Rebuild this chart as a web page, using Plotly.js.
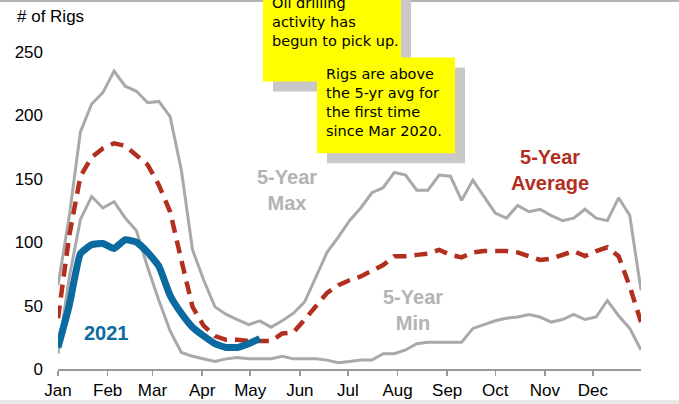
<!DOCTYPE html>
<html>
<head>
<meta charset="utf-8">
<script src="https://cdn.plot.ly/plotly-3.0.1.min.js"></script>
<style>
html,body{margin:0;padding:0;background:#fff;}
#chart{width:679px;height:404px;}
</style>
</head>
<body>
<div id="chart"></div>
<script>
// Weekly dates (x categories)
var weeks = [
  "2021-01-01","2021-01-08","2021-01-15","2021-01-22","2021-01-29",
  "2021-02-05","2021-02-12","2021-02-19","2021-02-26",
  "2021-03-05","2021-03-12","2021-03-19","2021-03-26",
  "2021-04-02","2021-04-09","2021-04-16","2021-04-23","2021-04-30",
  "2021-05-07","2021-05-14","2021-05-21","2021-05-28",
  "2021-06-04","2021-06-11","2021-06-18","2021-06-25",
  "2021-07-02","2021-07-09","2021-07-16","2021-07-23","2021-07-30",
  "2021-08-06","2021-08-13","2021-08-20","2021-08-27",
  "2021-09-03","2021-09-10","2021-09-17","2021-09-24",
  "2021-10-01","2021-10-08","2021-10-15","2021-10-22","2021-10-29",
  "2021-11-05","2021-11-12","2021-11-19","2021-11-26",
  "2021-12-03","2021-12-10","2021-12-17","2021-12-24","2021-12-31"
];

var fiveYearMax = [
  66,120,187,209,218,235,223,219,210,211,199,157,94,70,49,43,39,35,38,33,
  38,44,53,72,92,104,117,127,139,143,155,153,141,141,153,152,133,149,136,123,
  119,129,124,126,121,117,119,126,119,117,135,121,62
];

var fiveYearMin = [
  12,72,118,136,127,132,119,109,80,54,30,13,10,8,6,8,9,8,8,8,
  10,8,8,8,7,5,6,7,7,12,12,15,20,21,21,21,21,32,35,38,
  40,41,43,41,37,39,43,39,41,54,42,32,15
];

var fiveYearAvg = [
  40,105,152,167,174,178,176,168,161,145,124,86,49,34,26,23,23,22,22,22,
  28,29,39,50,60,66,70,73,78,82,89,89,90,91,94,90,88,92,93,93,
  93,92,89,86,87,90,93,89,93,96,89,65,37
];

var rigs2021 = [17,50,91,98,99,95,102,100,92,81,58,44,33,26,20,17,17,20,24];

var monthTicks = ["2021-01-01","2021-02-01","2021-03-01","2021-04-01","2021-05-01","2021-06-01",
                  "2021-07-01","2021-08-01","2021-09-01","2021-10-01","2021-11-01","2021-12-01"];
var monthLabels = ["Jan","Feb","Mar","Apr","May","Jun","Jul","Aug","Sep","Oct","Nov","Dec"];
var yTicks = [0,50,100,150,200,250];

var note1 = ["Oil drilling","activity has","begun to pick up."];
var note2 = ["Rigs are above","the 5-yr avg for","the first time","since Mar 2020."];

var GRAY = "#a9a9a9", RED = "#b22f1f", BLUE = "#0b6a9f";

var traces = [
  {x: weeks, y: fiveYearMin, mode: "lines", line: {color: GRAY, width: 3}, hoverinfo: "skip"},
  {x: weeks, y: fiveYearMax, mode: "lines", line: {color: GRAY, width: 3}, hoverinfo: "skip"},
  {x: weeks, y: fiveYearAvg, mode: "lines", line: {color: RED, width: 4.5, dash: "13px,8px"}, hoverinfo: "skip"},
  {x: weeks.slice(0, rigs2021.length), y: rigs2021, mode: "lines", line: {color: BLUE, width: 7, shape: "spline", smoothing: 0.4}, hoverinfo: "skip"}
];

// pixel -> paper helpers (plot area: x 58..641, y 51.5..369)
function px(x){ return (x - 58) / 583; }
function py(y){ return (369 - y) / 317.5; }

var shapes = [
  {type: "line", xref: "paper", yref: "paper", x0: px(0), x1: px(679), y0: py(0.5), y1: py(0.5), line: {color: "#b4b4b4", width: 2}, layer: "above"},
  {type: "rect", xref: "paper", yref: "paper", x0: px(0), x1: px(679), y0: py(400), y1: py(405), fillcolor: "#e8e8e8", line: {width: 0}, layer: "above"},
  {type: "rect", xref: "paper", yref: "paper", x0: px(273), x1: px(411), y0: py(91), y1: py(-20), fillcolor: "#c8c8c8", line: {width: 0}, layer: "above"},
  {type: "rect", xref: "paper", yref: "paper", x0: px(263), x1: px(401), y0: py(81), y1: py(-20), fillcolor: "#ffff00", line: {width: 0}, layer: "above"},
  {type: "rect", xref: "paper", yref: "paper", x0: px(327), x1: px(465), y0: py(163), y1: py(67), fillcolor: "#c8c8c8", line: {width: 0}, layer: "above"},
  {type: "rect", xref: "paper", yref: "paper", x0: px(317), x1: px(455), y0: py(153), y1: py(57), fillcolor: "#ffff00", line: {width: 0}, layer: "above"}
];

var noteFont = {family: "Comic Sans MS, DejaVu Sans, sans-serif", size: 14.5, color: "#000"};
var annotations = [
  {text: "# of Rigs", xref: "paper", yref: "paper", x: px(15), y: py(16), xanchor: "left", yanchor: "middle", showarrow: false,
   font: {family: "Liberation Sans, Arial, sans-serif", size: 17, color: "#000"}},
  {text: "5-Year<br>Max", xref: "paper", yref: "paper", x: px(287), y: py(190), xanchor: "center", yanchor: "middle", showarrow: false,
   font: {family: "Liberation Sans, Arial, sans-serif", size: 20, color: "#b3b3b3", weight: "bold"}},
  {text: "5-Year<br>Min", xref: "paper", yref: "paper", x: px(413), y: py(310), xanchor: "center", yanchor: "middle", showarrow: false,
   font: {family: "Liberation Sans, Arial, sans-serif", size: 20, color: "#b3b3b3", weight: "bold"}},
  {text: "5-Year<br>Average", xref: "paper", yref: "paper", x: px(550), y: py(169.5), xanchor: "center", yanchor: "middle", showarrow: false,
   font: {family: "Liberation Sans, Arial, sans-serif", size: 20, color: RED, weight: "bold"}},
  {text: "2021", xref: "paper", yref: "paper", x: px(106), y: py(333), xanchor: "center", yanchor: "middle", showarrow: false,
   font: {family: "Liberation Sans, Arial, sans-serif", size: 20, color: BLUE, weight: "bold"}}
];
var note1Y = [2, 21, 40];
note1.forEach(function(t, i){
  annotations.push({text: t, xref: "paper", yref: "paper", x: px(270), y: py(note1Y[i]), xanchor: "left", yanchor: "middle", showarrow: false, font: noteFont});
});
var note2Y = [74, 93, 112, 131];
note2.forEach(function(t, i){
  annotations.push({text: t, xref: "paper", yref: "paper", x: px(324), y: py(note2Y[i]), xanchor: "left", yanchor: "middle", showarrow: false, font: noteFont});
});

var layout = {
  width: 679, height: 404,
  margin: {l: 58, r: 38, t: 51.5, b: 35, pad: 0},
  paper_bgcolor: "#fff", plot_bgcolor: "#fff",
  showlegend: false,
  font: {family: "Liberation Sans, Arial, sans-serif", size: 17, color: "#000"},
  xaxis: {
    type: "date", range: ["2021-01-01", "2021-12-31"],
    tickvals: monthTicks, ticktext: monthLabels,
    ticks: "outside", ticklen: 5, tickcolor: "#999", tickwidth: 1.5,
    showline: true, linecolor: "#999", linewidth: 1.5,
    showgrid: false, zeroline: false,
    tickfont: {size: 17, color: "#000"}
  },
  yaxis: {
    range: [0, 250], tickvals: yTicks, ticktext: yTicks.map(String),
    ticks: "", showline: false, showgrid: false, zeroline: false,
    ticklabelstandoff: 14,
    tickfont: {size: 17, color: "#000"}
  },
  shapes: shapes,
  annotations: annotations
};

Plotly.newPlot("chart", traces, layout, {staticPlot: true, displayModeBar: false});
</script>
</body>
</html>
